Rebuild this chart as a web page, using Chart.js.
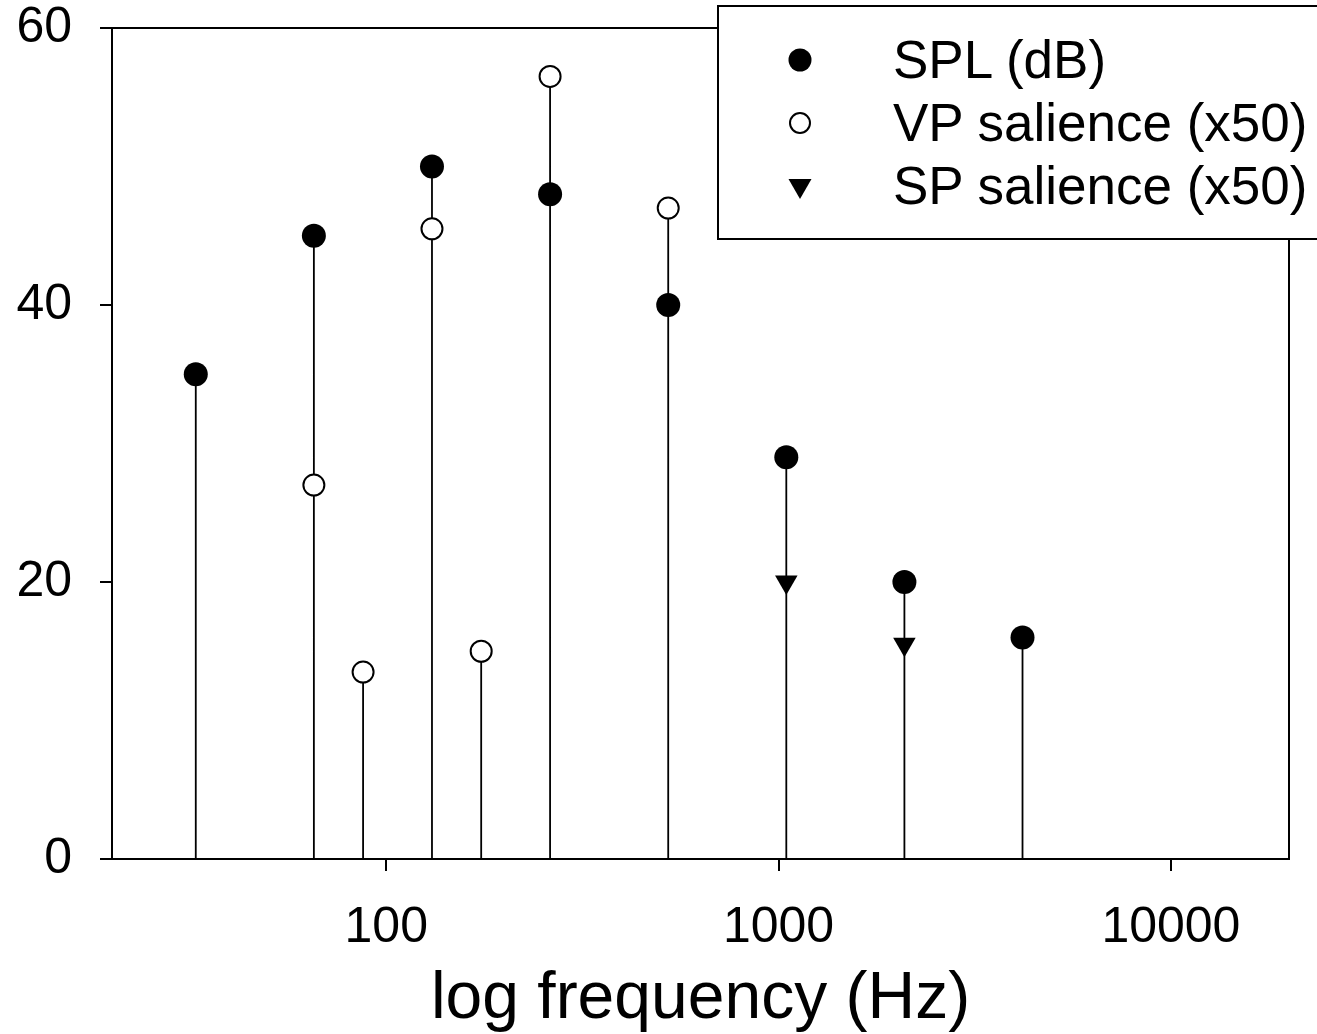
<!DOCTYPE html>
<html><head><meta charset="utf-8">
<script src="https://cdn.jsdelivr.net/npm/chart.js@4.4.1/dist/chart.umd.min.js"></script>
<style>
html,body{margin:0;padding:0;background:#fff;overflow:hidden;}
#wrap{position:relative;width:1317px;height:1034px;}
#legend{position:absolute;left:717px;top:5px;width:598px;height:231px;border-top:2px solid #000;border-left:2px solid #000;border-bottom:2px solid #000;border-right:0;background:#fff;font-family:"Liberation Sans",Arial,sans-serif;font-size:53px;color:#000;overflow:hidden;}
.row{position:absolute;left:0;width:100%;height:60px;}
.row span{position:absolute;left:174px;top:0;line-height:60px;white-space:nowrap;}
.row svg{position:absolute;left:68px;top:17px;}
</style></head>
<body><div id="wrap"><canvas id="c" width="1317" height="1034"></canvas><div id="legend"></div></div>
<script>
// ---- data ----
const seriesLabels = ['SPL (dB)', 'VP salience (x50)', 'SP salience (x50)'];
const splFreq   = [32.7, 65.4, 130.8, 261.6, 523.3, 1046.5, 2093, 4186];
const splValues = [35, 45, 50, 48, 40, 29, 20, 16];
const vpFreq    = [65.4, 87.3, 130.8, 174.6, 261.6, 523.3];
const vpValues  = [27, 13.5, 45.5, 15, 56.5, 47];
const spFreq    = [1046.5, 2093];
const spValues  = [20, 15.5];
const xTickValues = [100, 1000, 10000];
const yTickValues = [0, 20, 40, 60];
const xTitle = 'log frequency (Hz)';

const FONT = '"Liberation Sans", Arial, sans-serif';

function pts(fs, vs){ return fs.map((f,i)=>({x:f, y:vs[i]})); }

// stems: one vertical line per frequency, from 0 up to the highest marker there
const stemTop = new Map();
[[splFreq,splValues],[vpFreq,vpValues],[spFreq,spValues]].forEach(([fs,vs])=>{
  fs.forEach((f,i)=>{ stemTop.set(f, Math.max(stemTop.get(f) ?? -Infinity, vs[i])); });
});
const stemData = [];
[...stemTop.keys()].sort((a,b)=>a-b).forEach(f=>{
  stemData.push({x:f,y:0},{x:f,y:stemTop.get(f)},{x:f,y:null});
});

const framePlugin = {
  id:'frame',
  afterDraw(chart){
    const {ctx, chartArea:a} = chart;
    ctx.save();
    ctx.strokeStyle='#000'; ctx.lineWidth=2;
    ctx.beginPath();
    ctx.moveTo(a.left, a.top); ctx.lineTo(a.right, a.top); ctx.lineTo(a.right, a.bottom);
    ctx.stroke();
    ctx.restore();
  }
};

new Chart(document.getElementById('c'), {
  type:'scatter',
  data:{
    datasets:[
      {label:'stems', data:stemData, showLine:true, spanGaps:false, borderColor:'#000', borderWidth:1.8,
       pointRadius:0, pointHoverRadius:0, order:10},
      {label:seriesLabels[0], data:pts(splFreq,splValues), pointStyle:'circle', pointRadius:12,
       backgroundColor:'#000', borderColor:'#000', borderWidth:0, order:1},
      {label:seriesLabels[1], data:pts(vpFreq,vpValues), pointStyle:'circle', pointRadius:10.5,
       backgroundColor:'#fff', borderColor:'#000', borderWidth:2, order:1},
      {label:seriesLabels[2], data:pts(spFreq,spValues), pointStyle:'triangle', rotation:180, pointRadius:13,
       backgroundColor:'#000', borderColor:'#000', borderWidth:0, order:1}
    ]
  },
  options:{
    responsive:false, animation:false, devicePixelRatio:1,
    layout:{padding:{top:28, right:28, bottom:0, left:0}},
    plugins:{legend:{display:false}, tooltip:{enabled:false}},
    events:[],
    scales:{
      x:{
        type:'logarithmic', min:20, max:20000,
        afterBuildTicks(s){ s.ticks = xTickValues.map(v=>({value:v})); },
        afterFit(s){ s.height = 175; s.paddingLeft = 0; s.paddingRight = 0; },
        ticks:{ callback:(v)=>String(v), font:{family:FONT, size:50, lineHeight:1.1}, color:'#000', padding:30, maxRotation:0, autoSkip:false },
        grid:{ drawOnChartArea:false, drawTicks:true, tickLength:12, color:'#000', lineWidth:2 },
        border:{ display:true, color:'#000', width:2 },
        title:{ display:true, text:xTitle, font:{family:FONT, size:66, lineHeight:1.05}, color:'#000', padding:{top:0,bottom:0} }
      },
      y:{
        type:'linear', min:0, max:60,
        afterBuildTicks(s){ s.ticks = yTickValues.map(v=>({value:v})); },
        afterFit(s){ s.width = 112; s.paddingTop = 0; s.paddingBottom = 0; },
        ticks:{ font:{family:FONT, size:50, lineHeight:1.0}, color:'#000', padding:28 },
        grid:{ drawOnChartArea:false, drawTicks:true, tickLength:12, color:'#000', lineWidth:2 },
        border:{ display:true, color:'#000', width:2 }
      }
    }
  },
  plugins:[framePlugin]
});

// legend (HTML)
const markers = [
  '<svg width="26" height="26"><circle cx="13" cy="13" r="11.5" fill="#000"/></svg>',
  '<svg width="26" height="26"><circle cx="13" cy="13" r="10" fill="#fff" stroke="#000" stroke-width="2"/></svg>',
  '<svg width="26" height="26"><polygon points="1.5,6 24.5,6 13,26" fill="#000"/></svg>'
];
const rowTops = [23, 86, 149];
const lg = document.getElementById('legend');
seriesLabels.forEach((t,i)=>{
  const r = document.createElement('div');
  r.className='row'; r.style.top = rowTops[i]+'px';
  r.innerHTML = markers[i] + '<span></span>';
  r.querySelector('span').textContent = t;
  lg.appendChild(r);
});
</script>
</body></html>
